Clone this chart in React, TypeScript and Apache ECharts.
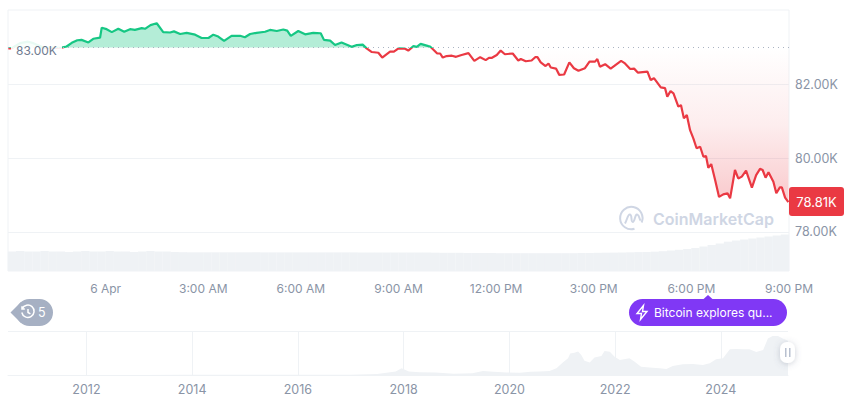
import React, { useEffect, useRef } from "react";
import * as echarts from "echarts";

const FONT = "Inter, 'Noto Sans', sans-serif";
const BASELINE = 83;

// Hours relative to 6 Apr 00:00
const priceHours = [-2.99,-2.88,-2.8,-2.63,-2.38,-2.22,-1.91,-1.5,-1.35,-1.2,-1.04,-0.87,-0.74,-0.53,-0.38,-0.17,-0.12,0.03,0.19,0.39,0.57,0.75,0.9,1.11,1.21,1.38,1.57,1.77,1.98,2.1,2.29,2.49,2.75,2.95,3.16,3.31,3.46,3.64,3.87,4.13,4.28,4.44,4.64,4.9,5.05,5.26,5.46,5.58,5.69,5.92,6.13,6.38,6.61,6.71,6.9,7.05,7.25,7.56,7.72,7.9,8.02,8.18,8.38,8.5,8.74,8.86,9,9.2,9.3,9.46,9.56,9.68,9.92,9.97,10.09,10.19,10.28,10.36,10.48,10.64,10.77,10.94,11.15,11.33,11.51,11.68,11.78,11.86,12.02,12.14,12.27,12.51,12.68,12.76,12.91,13.09,13.2,13.27,13.37,13.52,13.61,13.68,13.84,13.94,14.09,14.25,14.39,14.53,14.73,14.87,15.04,15.11,15.19,15.35,15.52,15.84,15.96,16.12,16.24,16.36,16.65,16.75,16.85,17.06,17.19,17.26,17.36,17.45,17.6,17.68,17.77,17.86,17.96,18.06,18.16,18.27,18.37,18.45,18.52,18.61,18.73,18.85,18.98,19.11,19.19,19.34,19.44,19.55,19.68,19.86,19.99,20.11,20.19,20.28,20.37,20.52,20.61,20.72,20.78,20.88,20.98,21];
const priceValues = [82.98,82.98,83.03,83.12,83.16,83.12,83,82.99,83,83.03,83.13,83.2,83.21,83.14,83.24,83.27,83.54,83.5,83.42,83.51,83.43,83.5,83.48,83.53,83.51,83.61,83.66,83.42,83.41,83.44,83.37,83.4,83.35,83.26,83.26,83.35,83.3,83.18,83.32,83.32,83.28,83.37,83.4,83.43,83.48,83.45,83.49,83.46,83.32,83.45,83.36,83.4,83.39,83.21,83.19,83.07,83.14,83.02,83.07,83.08,82.98,82.88,82.86,82.73,82.89,82.89,82.98,82.97,82.92,83.04,83.02,83.1,83.04,83.03,82.93,82.84,82.84,82.73,82.77,82.78,82.75,82.8,82.85,82.64,82.74,82.66,82.72,82.72,82.8,82.92,82.82,82.84,82.65,82.69,82.63,82.65,82.74,82.74,82.6,82.5,82.57,82.46,82.43,82.26,82.27,82.6,82.44,82.37,82.44,82.62,82.62,82.69,82.48,82.55,82.43,82.64,82.57,82.42,82.43,82.32,82.35,82.12,82.17,81.92,81.9,81.67,81.82,81.76,81.4,81.44,81.08,81.17,80.76,80.54,80.27,80.31,80.04,80.06,79.74,79.84,79.41,78.95,79.02,79.05,78.91,79.68,79.45,79.5,79.66,79.2,79.54,79.71,79.68,79.47,79.62,79.36,79.05,79.21,79.21,78.93,78.81,78.81];

// One bar per quarter hour, starting at 21:00 on 5 Apr
const volumeStartHour = -3;
const volumeStepHours = 0.25;
const volumeValues = [19.5,20,19.5,19.5,20,19.5,19.5,19,19.5,20,19.5,19.5,20,19.5,19.5,19,19.5,20,19.5,19.5,19,18.8,18.7,18.7,18.7,18.7,18.7,18.7,18.7,18.7,18.7,18.6,18.6,18.6,18.6,18.6,18.6,18.6,18.6,18.6,18.6,18.6,18.6,18.5,18.5,18.5,18.5,18.5,18.5,18.5,18.5,18.5,18.3,18.2,18.2,18.2,18,18,18,18,17.8,17.8,17.8,17.8,17.8,17.8,17.8,17.8,17.8,17.8,18,18,18.2,18.3,18.4,18.5,18.7,18.9,19,19.3,19.8,20.5,21.2,22,23,24.5,26,27.5,29.3,30.5,31.5,32.5,33.5,34.5,35.5,36.5];

const timeLabels = ["", "6 Apr", "3:00 AM", "6:00 AM", "9:00 AM", "12:00 PM", "3:00 PM", "6:00 PM", "9:00 PM"];
const priceTicks = [78, 80, 82];
const yearTicks = [2012, 2014, 2016, 2018, 2020, 2022, 2024];

const historyYears = [2010.52,2013,2013.9,2016,2017,2017.5,2017.85,2017.96,2018.1,2018.3,2018.6,2018.95,2019.3,2019.5,2019.7,2019.95,2020.2,2020.4,2020.57,2020.76,2020.89,2021.01,2021.11,2021.15,2021.23,2021.3,2021.36,2021.42,2021.52,2021.61,2021.74,2021.8,2021.9,2021.99,2022.09,2022.27,2022.37,2022.49,2022.65,2022.84,2022.97,2023.09,2023.28,2023.47,2023.66,2023.79,2023.91,2024.04,2024.17,2024.29,2024.42,2024.54,2024.67,2024.8,2024.89,2024.98,2025.08,2025.17,2025.27];
const historyValues = [0,0.1,1,0.5,1,3,10,19,10,8,7,3.5,5,11,9,7,6.5,9,10,11,19,35,47,60,62,66,56,40,35,49,53,67,65,51,42,47,37,23,21,19,17,25,30,31,28,33,44,47,72,73,72,72,64,70,102,109,109,102,96];

const GREEN = "#16c784";
const RED = "#ea3943";
const GRID = "#eff2f5";
const AXIS_TEXT = "#8a94a6";

echarts.graphic.registerShape(
  "cmcLogo",
  echarts.graphic.extendPath(
    "M22.6 16.5A11.2 11.2 0 1 0 15.5 22.8M6 17.5C8 14 8.8 8.2 11 8.6C13.4 9 11.6 16 13.8 16C16 16 15.8 7.6 18.4 8.6C20.6 9.4 20 13 21.6 14.6",
    {}
  )
);
echarts.graphic.registerShape(
  "bolt",
  echarts.graphic.extendPath("M6.5 0L0 8H4.5L3.5 14L10 6H5.5Z", {})
);
echarts.graphic.registerShape(
  "history",
  echarts.graphic.extendPath(
    "M1.2 3.2A6.2 6.2 0 1 1 .8 7M1 .8V3.6H3.8M7 3.4V7L9.4 8.4",
    {}
  )
);

export default function App() {
  const ref = useRef<HTMLDivElement>(null);

  useEffect(() => {
    document.body.style.margin = "0";
    const chart = echarts.init(ref.current!, undefined, { renderer: "svg" });
    const price = priceHours.map((h, i) => [h, priceValues[i]]);
    const above = priceHours.map((h, i) => [h, Math.max(priceValues[i], BASELINE)]);
    const below = priceHours.map((h, i) => [h, Math.min(priceValues[i], BASELINE)]);
    const volume = volumeValues.map((v, i) => [volumeStartHour + volumeStepHours * (i + 0.5), v]);
    const history = historyYears.map((y, i) => [y, historyValues[i]]);

    chart.setOption({
      animation: false,
      textStyle: { fontFamily: FONT },
      grid: [
        { left: 8, top: 10, width: 781, height: 261, show: true, borderColor: GRID, borderWidth: 1, backgroundColor: "transparent" },
        { left: 8, top: 331, width: 780, height: 44 },
      ],
      xAxis: [
        {
          type: "value", gridIndex: 0, min: -3, max: 21, interval: 3,
          axisLine: { show: false }, axisTick: { show: false }, splitLine: { show: false },
          axisLabel: {
            color: AXIS_TEXT, fontSize: 12, fontFamily: FONT, margin: 11,
            showMinLabel: true, showMaxLabel: true, hideOverlap: false,
            formatter: (_: number, i: number) => timeLabels[i] ?? "",
          },
        },
        {
          type: "value", gridIndex: 1, min: 2010.516, max: 2025.27,
          axisLine: { show: true, lineStyle: { color: GRID } },
          axisTick: { show: false, customValues: yearTicks },
          splitLine: { show: true, lineStyle: { color: GRID } },
          axisLabel: {
            color: AXIS_TEXT, fontSize: 12.5, fontFamily: FONT, margin: 8,
            customValues: yearTicks, formatter: (v: number) => String(v),
          },
        },
      ],
      yAxis: [
        {
          type: "value", gridIndex: 0, position: "right", min: 76.94, max: 84.02,
          axisLine: { show: false },
          axisTick: { show: false, customValues: priceTicks },
          splitLine: { show: true, lineStyle: { color: GRID } },
          axisLabel: {
            color: AXIS_TEXT, fontSize: 12.5, fontFamily: FONT, margin: 6,
            customValues: priceTicks, formatter: (v: number) => v.toFixed(2) + "K",
          },
        },
        {
          type: "value", gridIndex: 0, min: 0, max: 261, show: false,
          splitLine: { show: false },
        },
        {
          type: "value", gridIndex: 1, min: 0, max: 123, interval: 123,
          axisLine: { show: false }, axisTick: { show: false }, axisLabel: { show: false },
          splitLine: { show: true, lineStyle: { color: GRID } },
        },
      ],
      visualMap: {
        type: "piecewise", show: false, seriesIndex: 3, dimension: 1,
        pieces: [
          { min: 70, max: BASELINE, color: RED },
          { min: BASELINE, max: 90, color: GREEN },
        ],
      },
      series: [
        {
          type: "bar", xAxisIndex: 0, yAxisIndex: 1, data: volume, barWidth: 8.3,
          itemStyle: { color: GRID }, silent: true,
        },
        {
          type: "line", xAxisIndex: 0, yAxisIndex: 0, data: above, symbol: "none",
          lineStyle: { width: 0 }, silent: true,
          areaStyle: { origin: BASELINE, color: "rgba(22,199,132,0.32)", opacity: 1 },
        },
        {
          type: "line", xAxisIndex: 0, yAxisIndex: 0, data: below, symbol: "none",
          lineStyle: { width: 0 }, silent: true,
          areaStyle: {
            origin: BASELINE, opacity: 1,
            color: new echarts.graphic.LinearGradient(0, 0, 0, 1, [
              { offset: 0, color: "rgba(234,57,67,0)" },
              { offset: 0.5, color: "rgba(234,57,67,0.09)" },
              { offset: 1, color: "rgba(234,57,67,0.27)" },
            ]),
          },
          markLine: {
            silent: true, symbol: "none", label: { show: false },
            lineStyle: { color: "#aab3c2", type: [1, 4], width: 1 },
            data: [{ yAxis: BASELINE }],
          },
        },
        {
          type: "line", xAxisIndex: 0, yAxisIndex: 0, data: price, symbol: "none",
          lineStyle: { width: 2.2 }, z: 4,
        },
        {
          type: "line", xAxisIndex: 1, yAxisIndex: 2, data: history, symbol: "none",
          lineStyle: { width: 0 }, silent: true,
          areaStyle: { color: GRID, opacity: 1 },
        },
      ],
      graphic: [
        { type: "rect", z: 50, shape: { x: 11, y: 40, width: 51, height: 20 }, style: { fill: "rgba(255,255,255,0.9)" } },
        { type: "text", z: 51, x: 16, y: 50.5, style: { text: "83.00K", fill: "#6f7a8f", font: `12px ${FONT}`, textVerticalAlign: "middle" } },

        { type: "rect", z: 50, shape: { x: 789, y: 187, width: 55, height: 29, r: 3 }, style: { fill: RED } },
        { type: "text", z: 51, x: 816.5, y: 201.5, style: { text: "78.81K", fill: "#fff", font: `13px ${FONT}`, textAlign: "center", textVerticalAlign: "middle" } },

        { type: "cmcLogo", z: 20, x: 619, y: 206, style: { fill: "none", stroke: "#cfd6e4", lineWidth: 2 } },
        { type: "text", z: 20, x: 653, y: 219, style: { text: "CoinMarketCap", fill: "#cfd6e4", font: `600 16px ${FONT}`, textVerticalAlign: "middle" } },

        { type: "polygon", z: 50, shape: { points: [[10.5, 312.5], [21, 302], [21, 323]] }, style: { fill: "#a6b0c3" } },
        { type: "rect", z: 50, shape: { x: 16, y: 299, width: 37, height: 27, r: 13.5 }, style: { fill: "#a6b0c3" } },
        { type: "history", z: 51, x: 21, y: 305.5, style: { fill: "none", stroke: "#fff", lineWidth: 1.5 } },
        { type: "text", z: 51, x: 38, y: 312.5, style: { text: "5", fill: "#fff", font: `12.5px ${FONT}`, textVerticalAlign: "middle" } },

        { type: "polygon", z: 50, shape: { points: [[703, 299.5], [708, 295], [713, 299.5]] }, style: { fill: "#8038f5" } },
        { type: "rect", z: 50, shape: { x: 629, y: 299, width: 158, height: 27, r: 13.5 }, style: { fill: "#8038f5" } },
        { type: "bolt", z: 51, x: 637, y: 305.5, style: { fill: "none", stroke: "#fff", lineWidth: 1.4 } },
        { type: "text", z: 51, x: 654, y: 312.5, style: { text: "Bitcoin explores qu...", fill: "#fff", font: `12px ${FONT}`, textVerticalAlign: "middle" } },

        { type: "rect", z: 50, shape: { x: 780, y: 342, width: 15, height: 21, r: 7 }, style: { fill: "#fff", shadowBlur: 6, shadowColor: "rgba(88,102,126,0.3)", shadowOffsetY: 1 } },
        { type: "rect", z: 51, shape: { x: 785, y: 348, width: 1.5, height: 9 }, style: { fill: "#b8c0cf" } },
        { type: "rect", z: 51, shape: { x: 789, y: 348, width: 1.5, height: 9 }, style: { fill: "#b8c0cf" } },
      ],
    });
    return () => chart.dispose();
  }, []);

  return <div ref={ref} style={{ width: 860, height: 401 }} />;
}
